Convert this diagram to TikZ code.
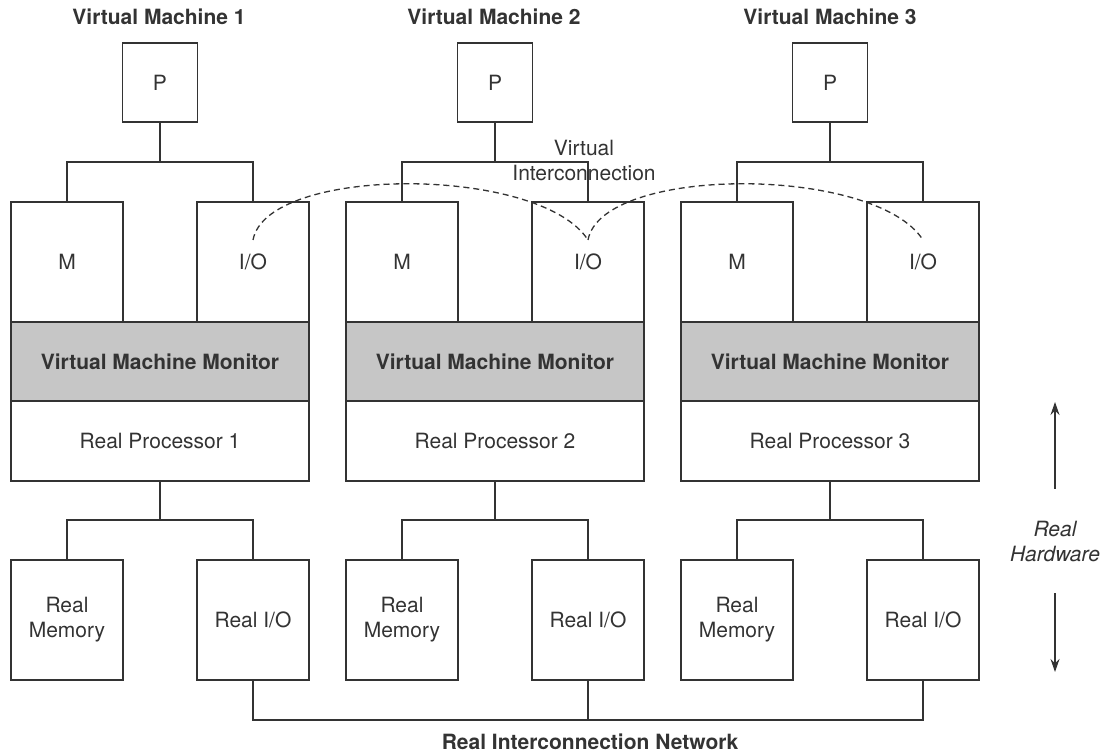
\documentclass[tikz,border=0pt]{standalone}
\usepackage{fontspec}
\setmainfont{TeX Gyre Heros}
\usepackage{tikz}
\usetikzlibrary{arrows.meta}
\definecolor{ink}{gray}{0.2}
\tikzset{
  vmfont/.style={font=\fontsize{21}{25}\selectfont, text=ink},
  vmbox/.style={draw=ink, line width=1.4pt, align=center, inner sep=0pt},
  procbox/.style={vmbox, minimum width=75pt, minimum height=79pt},
  unitbox/.style={vmbox, minimum width=112pt, minimum height=120pt},
  bandbox/.style={vmbox, fill=white, minimum width=298pt, minimum height=80pt},
  bandboxgray/.style={bandbox, fill=gray!45, minimum height=79pt, font=\fontsize{21}{25}\selectfont\bfseries},
  vmtitle/.style={font=\fontsize{21}{25}\selectfont\bfseries},
  vmwire/.style={draw=ink, line width=1.4pt},
  vmlink/.style={draw=ink, line width=1.3pt, dash pattern=on 6pt off 4pt},
  vmarrow/.style={draw=ink, line width=1.2pt, -{Stealth[length=13pt, width=9pt]}},
}

\begin{document}
\begin{tikzpicture}[x=1pt, y=-1pt, vmfont]
		\useasboundingbox (0,0) rectangle (1110,754);

		% Virtual machine 1
		\node[vmtitle] (title1) at (159,17) {Virtual Machine 1};
		\node[procbox] (p1) at (160,82.5) {P};
		\node[unitbox] (m1) at (67,262) {M};
		\node[unitbox] (io1) at (253,262) {I/O};
		\node[bandboxgray] (vmm1) at (160,361.5) {Virtual Machine Monitor};
		\node[bandbox] (rp1) at (160,441) {Real Processor 1};
		\node[unitbox] (rmem1) at (67,620) {Real\\Memory};
		\node[unitbox] (rio1) at (253,620) {Real I/O};
		\coordinate (t1) at (160,162);
		\coordinate (b1) at (160,520);
		\draw[vmwire] (p1.south) -- (t1);
		\draw[vmwire] (m1.north) |- (t1) -| (io1.north);
		\draw[vmwire] (rp1.south) -- (b1);
		\draw[vmwire] (rmem1.north) |- (b1) -| (rio1.north);

		% Virtual machine 2
		\node[vmtitle] (title2) at (494,17) {Virtual Machine 2};
		\node[procbox] (p2) at (495,82.5) {P};
		\node[unitbox] (m2) at (402,262) {M};
		\node[unitbox] (io2) at (588,262) {I/O};
		\node[bandboxgray] (vmm2) at (495,361.5) {Virtual Machine Monitor};
		\node[bandbox] (rp2) at (495,441) {Real Processor 2};
		\node[unitbox] (rmem2) at (402,620) {Real\\Memory};
		\node[unitbox] (rio2) at (588,620) {Real I/O};
		\coordinate (t2) at (495,162);
		\coordinate (b2) at (495,520);
		\draw[vmwire] (p2.south) -- (t2);
		\draw[vmwire] (m2.north) |- (t2) -| (io2.north);
		\draw[vmwire] (rp2.south) -- (b2);
		\draw[vmwire] (rmem2.north) |- (b2) -| (rio2.north);

		% Virtual machine 3
		\node[vmtitle] (title3) at (830,17) {Virtual Machine 3};
		\node[procbox] (p3) at (830,82.5) {P};
		\node[unitbox] (m3) at (737,262) {M};
		\node[unitbox] (io3) at (923,262) {I/O};
		\node[bandboxgray] (vmm3) at (830,361.5) {Virtual Machine Monitor};
		\node[bandbox] (rp3) at (830,441) {Real Processor 3};
		\node[unitbox] (rmem3) at (737,620) {Real\\Memory};
		\node[unitbox] (rio3) at (923,620) {Real I/O};
		\coordinate (t3) at (830,162);
		\coordinate (b3) at (830,520);
		\draw[vmwire] (p3.south) -- (t3);
		\draw[vmwire] (m3.north) |- (t3) -| (io3.north);
		\draw[vmwire] (rp3.south) -- (b3);
		\draw[vmwire] (rmem3.north) |- (b3) -| (rio3.north);

		% Virtual interconnection
		\coordinate (d1) at (253,240);
		\coordinate (d2) at (588,240);
		\coordinate (d3) at (923,240);
		\draw[vmlink] (d1) .. controls +(14,-75) and +(-48,-75) .. (d2);
		\draw[vmlink] (d2) .. controls +(14,-75) and +(-48,-75) .. (d3);
		\node[align=center] (vlabel) at (584,160.5) {Virtual\\Interconnection};

		% Real interconnection network
		\coordinate (net) at (590,720);
		\draw[vmwire] (rio1.south) |- (net) -| (rio3.south);
		\draw[vmwire] (rio2.south) -- (rio2.south |- net);
		\node[vmtitle] (netlabel) at (590,742) {Real Interconnection Network};

		% Real hardware marker
		\node[align=center, font=\fontsize{21}{25}\selectfont\itshape, minimum height=104pt] (hw) at (1055,541) {Real\\Hardware};
		\coordinate (hwup) at (1055,402);
		\coordinate (hwdown) at (1055,672);
		\draw[vmarrow] (hw.north) -- (hwup);
		\draw[vmarrow] (hw.south) -- (hwdown);
	\end{tikzpicture}
\end{document}
